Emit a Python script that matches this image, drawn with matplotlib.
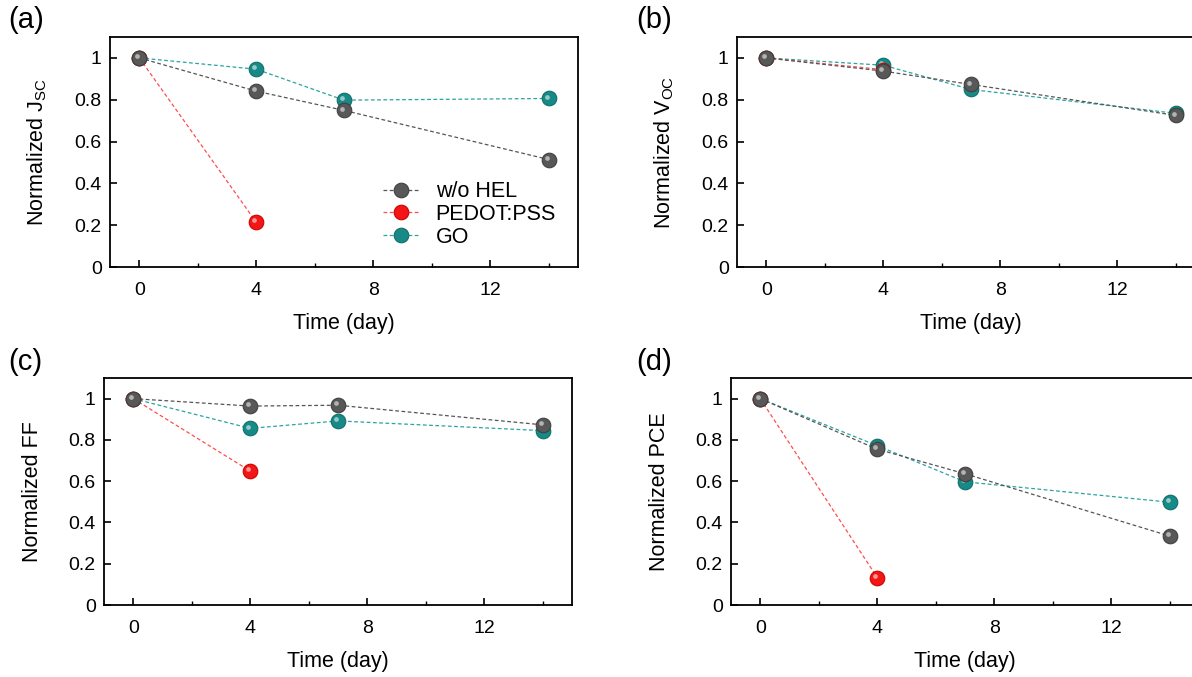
import matplotlib
matplotlib.use("Agg")
import matplotlib.pyplot as plt
from matplotlib.ticker import FixedLocator, FuncFormatter
from matplotlib.transforms import offset_copy
from matplotlib.lines import Line2D

plt.rcParams['font.family'] = ['Liberation Sans', 'DejaVu Sans']
plt.rcParams['mathtext.fontset'] = 'custom'
plt.rcParams['mathtext.rm'] = 'Liberation Sans'
plt.rcParams['mathtext.it'] = 'Liberation Sans:italic'

# Aging days for each device type
days_ref = [0, 4, 7, 14]
days_pedot = [0, 4]
days_go = [0, 4, 7, 14]

# Normalized Jsc
jsc_ref = [1.0, 0.841, 0.749, 0.514]
jsc_pedot = [1.0, 0.214]
jsc_go = [1.0, 0.946, 0.798, 0.806]

# Normalized Voc
voc_ref = [1.0, 0.937, 0.873, 0.725]
voc_pedot = [1.0, 0.944]
voc_go = [1.0, 0.965, 0.849, 0.735]

# Normalized FF
ff_ref = [1.0, 0.964, 0.968, 0.873]
ff_pedot = [1.0, 0.649]
ff_go = [1.0, 0.856, 0.892, 0.845]

# Normalized PCE
pce_ref = [1.0, 0.755, 0.636, 0.334]
pce_pedot = [1.0, 0.133]
pce_go = [1.0, 0.772, 0.597, 0.498]

series_names = ['w/o HEL', 'PEDOT:PSS', 'GO']
panel_tags = ['(a)', '(b)', '(c)', '(d)']
ylabels = ['Normalized J$_\\mathregular{SC}$', 'Normalized V$_\\mathregular{OC}$',
           'Normalized FF', 'Normalized PCE']
xlabel = 'Time (day)'
xticks = [0, 4, 8, 12]
yticks = [0, 0.2, 0.4, 0.6, 0.8, 1.0]

panels = [
    (jsc_ref, jsc_pedot, jsc_go),
    (voc_ref, voc_pedot, voc_go),
    (ff_ref, ff_pedot, ff_go),
    (pce_ref, pce_pedot, pce_go),
]

marker_colors = ['#585858', '#f21616', '#178a87']
edge_colors = ['#404040', '#d00000', '#0f6e6b']
line_colors = ['#555555', '#ff4d4d', '#2aa3a3']
dash = (0, (3, 2))
msize = 10.5

W, H = 1192, 677
fig = plt.figure(figsize=(W / 100, H / 100), dpi=100)

# axes boxes in pixels: left, top, width, height
boxes = [
    (110, 37, 468, 230),
    (737, 37, 468, 230),
    (104, 378, 468, 227),
    (731, 378, 468, 227),
]
tag_pos = [(8, 20), (636, 20), (8, 362), (636, 362)]


def draw_series(ax, x, y, k):
    ax.plot(x, y, linestyle=dash, color=line_colors[k], linewidth=0.9, zorder=2)
    ax.plot(x, y, linestyle='none', marker='o', markersize=msize,
            markerfacecolor=marker_colors[k], markeredgecolor=edge_colors[k],
            markeredgewidth=0.8, zorder=3)
    # small highlight to give the markers a glossy look
    hl = offset_copy(ax.transData, fig=fig, x=-1.3, y=1.3, units='points')
    ax.plot(x, y, linestyle='none', marker='o', markersize=3.4,
            markerfacecolor='white', markeredgecolor='none', alpha=0.55,
            transform=hl, zorder=3)


for i, (box, data) in enumerate(zip(boxes, panels)):
    l, t, w, h = box
    ax = fig.add_axes([l / W, 1 - (t + h) / H, w / W, h / H])
    ref, ped, go = data
    # GO first, then PEDOT:PSS, reference device on top
    draw_series(ax, days_go, go, 2)
    draw_series(ax, days_pedot, ped, 1)
    draw_series(ax, days_ref, ref, 0)

    ax.set_xlim(-1, 15)
    ax.set_ylim(0, 1.1)
    ax.xaxis.set_major_locator(FixedLocator(xticks))
    ax.xaxis.set_minor_locator(FixedLocator([2, 6, 10, 14]))
    ax.yaxis.set_major_locator(FixedLocator(yticks))
    ax.yaxis.set_major_formatter(FuncFormatter(lambda v, p: '%g' % round(v, 1)))
    ax.tick_params(axis='both', which='major', direction='in', length=5,
                   width=1.2, labelsize=14)
    ax.tick_params(axis='x', which='major', pad=11)
    ax.tick_params(axis='y', which='major', pad=6)
    ax.tick_params(axis='x', which='minor', direction='in', length=3, width=1.0)
    ax.tick_params(top=False, right=False)
    for s in ax.spines.values():
        s.set_linewidth(1.3)
    ax.set_xlabel(xlabel, fontsize=15.5, labelpad=10)
    ax.set_ylabel(ylabels[i], fontsize=15.5, labelpad=18)

    if i == 0:
        handles = [
            Line2D([0], [0], linestyle=dash, color=line_colors[k],
                   linewidth=0.9, marker='o', markersize=msize,
                   markerfacecolor=marker_colors[k],
                   markeredgecolor=edge_colors[k], markeredgewidth=0.8)
            for k in range(3)
        ]
        ax.legend(handles, series_names, loc='upper left',
                  bbox_to_anchor=(0.583, 0.373), frameon=False, fontsize=15.5,
                  borderaxespad=0, borderpad=0,
                  handlelength=1.7, handletextpad=0.75, labelspacing=0.08)

    tx, ty = tag_pos[i]
    fig.text(tx / W, 1 - ty / H, panel_tags[i], fontsize=21, va='center',
             ha='left')

fig.savefig('out.png', dpi=100)
